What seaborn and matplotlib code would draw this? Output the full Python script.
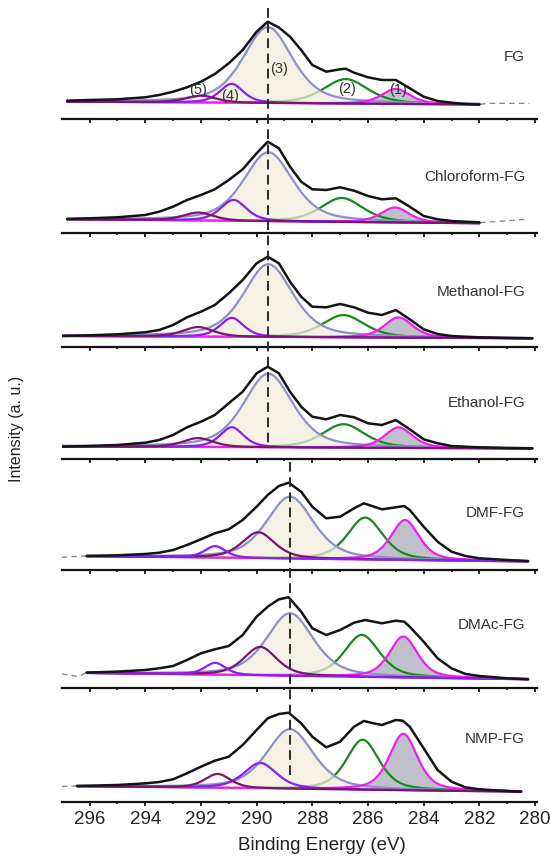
import numpy as np
import pandas as pd
import matplotlib
matplotlib.use("Agg")
import matplotlib.pyplot as plt
import seaborn as sns
from matplotlib.lines import Line2D
from matplotlib.transforms import blended_transform_factory

sns.set_theme(style="white")
plt.rcParams["font.family"] = ["Liberation Sans", "DejaVu Sans"]

# ---------------- data ----------------
panel_names = ["FG", "Chloroform-FG", "Methanol-FG", "Ethanol-FG", "DMF-FG", "DMAc-FG", "NMP-FG"]
xtick_values = [296, 294, 292, 290, 288, 286, 284, 282, 280]
ref_line_top = 289.6      # dashed reference line, top four panels
ref_line_bottom = 288.8   # dashed reference line, bottom three panels

# measured spectra (black curves), intensity in arbitrary units
fg_E = [296.8, 296, 295, 294, 293.5, 293, 292.5, 292, 291.5, 291, 290.5, 290, 289.6, 289.2, 288.8,
        288.4, 288, 287.5, 287, 286.8, 286.5, 286, 285.5, 285, 284.5, 284, 283.5, 283, 282.5, 282]
fg_I = [17.8, 18.5, 19.2, 21.2, 23.5, 26.8, 31.2, 36.8, 44.5, 55.2, 68.5, 86.8, 96.8, 91.0, 81.8,
        68.5, 53.5, 46.8, 49.2, 49.8, 45.8, 41.2, 38.5, 38.5, 30.2, 21.8, 17.5, 15.8, 14.5, 14.0]
chl_E = [296.8, 296, 295, 294, 293.5, 293, 292.5, 292, 291.5, 291, 290.5, 290, 289.6, 289.2, 288.8,
         288.4, 288, 287.5, 287, 286.5, 286, 285.5, 285, 284.5, 284, 283.5, 283, 282.5, 282]
chl_I = [14.3, 15, 16, 18.3, 21.6, 26.6, 33.3, 38.3, 44, 53.3, 64, 80, 91.6, 85, 66.6,
         51.6, 44, 43.3, 46, 42.6, 37.3, 34, 35, 26.6, 17.3, 14, 12.3, 11.6, 11]
met_E = [297.0, 296, 295, 294, 293.5, 293, 292.5, 292, 291.5, 291, 290.5, 290, 289.6, 289.2, 288.8, 288.4,
         288, 287.5, 287, 286.5, 286, 285.5, 285, 284.5, 284, 283.5, 283, 282.5, 282, 281, 280.1]
met_I = [11.3, 12, 13, 15, 17.3, 22.3, 30, 35.6, 42.3, 54, 67.3, 84, 90.6, 84, 65.6, 50.6,
         40.6, 40, 43.3, 40, 34.6, 32.3, 37.3, 28, 18, 13.3, 11.3, 10.6, 10, 9.3, 9]
eth_E = [297.0, 296, 295, 294, 293.5, 293, 292.5, 292, 291.5, 291, 290.5, 290, 289.6, 289.2, 288.8, 288.4,
         288, 287.5, 287, 286.5, 286, 285.5, 285, 284.5, 284, 283.5, 283, 282.5, 282, 281, 280.1]
eth_I = [12.3, 13, 14, 16.3, 19, 24, 31.7, 37.3, 44, 55.7, 67.3, 85.7, 92.3, 85.7, 67.3, 52.3,
         42.3, 39.7, 44, 41.7, 35.7, 34, 39, 29.7, 19.7, 15.7, 13, 12.3, 11.7, 11, 10.7]
dmf_E = [296.1, 295, 294, 293.5, 293, 292.5, 292, 291.5, 291, 290.5, 290, 289.6, 289.2, 288.85, 288.4, 288,
         287.5, 287, 286.5, 286.15, 285.5, 285, 284.7, 284.5, 284, 283.5, 283, 282.5, 282, 281, 280.25]
dmf_I = [14, 14.7, 16, 17.3, 20, 25, 30.7, 36.7, 40.7, 50, 63.3, 75, 84, 87.3, 78.3, 63.3,
         51.7, 53.3, 61.7, 66.7, 60.7, 62.7, 64, 60, 43.3, 28.3, 18.3, 14, 11.7, 10, 9]
dmac_E = [296.1, 295, 294, 293.5, 293, 292.5, 292, 291.5, 291, 290.5, 290, 289.6, 289.2, 288.85, 288.4, 288,
          287.5, 287, 286.5, 286.1, 285.5, 285, 284.7, 284.5, 284, 283.5, 283, 282.5, 282, 281, 280.25]
dmac_I = [15.7, 16.7, 18.3, 20, 22.3, 28.3, 35, 39, 42.3, 53.3, 71.6, 81.6, 89, 91, 76.6, 60,
          53.3, 58.3, 65.6, 68.3, 65, 67.6, 66.6, 61.6, 46.6, 30, 20, 14.3, 12.3, 10, 9]
nmp_E = [296.45, 296, 295, 294, 293.5, 293, 292.5, 292, 291.5, 291, 290.5, 290, 289.6, 289.2, 288.85, 288.4,
         288, 287.5, 287, 286.5, 286.15, 285.8, 285.5, 285, 284.75, 284.5, 284, 283.5, 283, 282.5, 282, 281, 280.5]
nmp_I = [15.7, 16, 16.7, 18.3, 19.7, 22.4, 28.4, 35, 41, 45, 56.7, 71.7, 83.4, 87.7, 89, 78.4,
         65, 54.4, 60, 75, 80.7, 78.4, 76.7, 81.7, 81, 75, 53.4, 31.7, 20, 14.4, 12.4, 10.7, 10]

# raw-data (grey dashed) extensions beyond the black curves
fg_tail_E, fg_tail_I = [282.0, 281.7, 280.2], [14.0, 15.2, 15.2]
chl_tail_E, chl_tail_I = [282.0, 280.3], [10.6, 14.0]
met_tail_E, met_tail_I = [], []
eth_tail_E, eth_tail_I = [], []
dmf_tail_E, dmf_tail_I = [297.0, 296.1], [12.7, 14.0]
dmac_tail_E, dmac_tail_I = [297.0, 296.4, 296.1], [14.3, 11.8, 15.7]
nmp_tail_E, nmp_tail_I = [297.0, 296.45], [15.3, 15.7]

# fitted components (1)..(5): centre (eV), height above baseline, FWHM (eV)
fg_centers, fg_heights, fg_fwhm = [285.0, 286.8, 289.6, 290.9, 292.0], [15, 24.5, 76, 19, 7], [1.2, 1.9, 2.1, 1.0, 1.3]
chl_centers, chl_heights, chl_fwhm = [285.03, 286.94, 289.58, 290.83, 292.1], [15, 24, 69, 21, 8], [1.2, 1.8, 2.1, 1.1, 1.3]
met_centers, met_heights, met_fwhm = [284.9, 286.88, 289.58, 290.89, 292.1], [20.3, 22.3, 72.8, 19, 9.6], [1.2, 1.8, 2.1, 1.0, 1.3]
eth_centers, eth_heights, eth_fwhm = [284.9, 286.88, 289.58, 290.89, 292.1], [20.5, 23.5, 73.7, 20, 9], [1.2, 1.8, 2.1, 1.0, 1.3]
dmf_centers, dmf_heights, dmf_fwhm = [284.67, 286.1, 288.8, 289.94, 291.49], [40, 42, 62, 26, 11.6], [1.2, 1.5, 2.0, 1.4, 0.9]
dmac_centers, dmac_heights, dmac_fwhm = [284.73, 286.22, 288.8, 289.87, 291.49], [41, 42, 62.7, 28.6, 12], [1.2, 1.5, 2.0, 1.4, 0.9]
nmp_centers, nmp_heights, nmp_fwhm = [284.73, 286.19, 288.8, 289.87, 291.4], [56.4, 50, 59.7, 25.5, 14], [1.2, 1.4, 2.0, 1.4, 1.1]
# linear background: value at the high-BE end and at the low-BE end of the fit range
fg_base, chl_base, met_base, eth_base = [16.8, 14.0], [14.0, 10.0], [11.3, 9.0], [12.5, 10.5]
dmf_base, dmac_base, nmp_base = [13.8, 8.5], [15.3, 9.0], [15.5, 10.0]

# component labels in the top panel
fg_label_text = ["(1)", "(2)", "(3)", "(4)", "(5)"]
fg_label_E = [284.92, 286.76, 289.19, 290.95, 292.09]
fg_label_I = [28.5, 29.2, 49.2, 22.5, 28.5]

# ---------------- styling ----------------
C_LAV, C_GREEN, C_MAG = "#8c91c7", "#15891a", "#f01ff0"
C_VIO, C_DPUR = "#8a1ff2", "#7d1470"
C_BEIGE, C_GREYF = "#f2eddb", "#c0c0cb"
ETA = 0.5  # Lorentzian fraction of the pseudo-Voigt component shape

panels = [
    (fg_E, fg_I, fg_tail_E, fg_tail_I, fg_centers, fg_heights, fg_fwhm, fg_base, False),
    (chl_E, chl_I, chl_tail_E, chl_tail_I, chl_centers, chl_heights, chl_fwhm, chl_base, False),
    (met_E, met_I, met_tail_E, met_tail_I, met_centers, met_heights, met_fwhm, met_base, False),
    (eth_E, eth_I, eth_tail_E, eth_tail_I, eth_centers, eth_heights, eth_fwhm, eth_base, False),
    (dmf_E, dmf_I, dmf_tail_E, dmf_tail_I, dmf_centers, dmf_heights, dmf_fwhm, dmf_base, True),
    (dmac_E, dmac_I, dmac_tail_E, dmac_tail_I, dmac_centers, dmac_heights, dmac_fwhm, dmac_base, True),
    (nmp_E, nmp_I, nmp_tail_E, nmp_tail_I, nmp_centers, nmp_heights, nmp_fwhm, nmp_base, False),
]
panel_px_heights = [113.5, 114.8, 114.0, 111.7, 111.0, 118.3, 113.4]
label_y = [61.5, 56.3, 55.6, 56.0, 57.0, 63.3, 62.8]


def pvoigt(x, c, h, w):
    z = 4.0 * (x - c) ** 2 / w ** 2
    return h * ((1 - ETA) * np.exp(-np.log(2) * z) + ETA / (1 + z))


W, H = 550, 858
fig = plt.figure(figsize=(W / 100, H / 100), dpi=100)
gs = fig.add_gridspec(len(panels), 1, height_ratios=panel_px_heights, hspace=0,
                      left=61.7 / W, right=537 / W, top=1 - 5 / H, bottom=1 - 801.7 / H)
axes = [fig.add_subplot(gs[i]) for i in range(len(panels))]

for i, (ax, p) in enumerate(zip(axes, panels)):
    E, I, tE, tI, cen, hei, fw, base, swap = p
    e0, e1 = E[0], E[-1]
    grid = np.linspace(e0, e1, 500)
    bl = base[0] + (base[1] - base[0]) * (grid - e0) / (e1 - e0)
    comps = [bl + pvoigt(grid, c, h, w) for c, h, w in zip(cen, hei, fw)]
    c4, c5 = (C_DPUR, C_VIO) if swap else (C_VIO, C_DPUR)

    # grey fill under component (1), beige fill under component (3)
    ax.fill_between(grid, bl, comps[0], color=C_GREYF, lw=0, zorder=1.5)
    sns.lineplot(x=grid, y=comps[1], ax=ax, color=C_GREEN, lw=1.6, estimator=None, sort=False, zorder=2)
    ax.fill_between(grid, bl, comps[2], color=C_BEIGE, alpha=0.72, lw=0, zorder=2.5)
    sns.lineplot(x=grid, y=comps[2], ax=ax, color=C_LAV, lw=1.6, estimator=None, sort=False, zorder=3)
    sns.lineplot(x=grid, y=comps[0], ax=ax, color=C_MAG, lw=1.6, estimator=None, sort=False, zorder=3.2)
    sns.lineplot(x=grid, y=comps[3], ax=ax, color=c4, lw=1.6, estimator=None, sort=False, zorder=3.3)
    sns.lineplot(x=grid, y=comps[4], ax=ax, color=c5, lw=1.6, estimator=None, sort=False, zorder=3.4)

    # raw data (grey dashed) and measured envelope (black)
    if len(tE):
        if tE[0] > E[0]:
            rawE, rawI = list(tE) + list(E), list(tI) + list(I)
        else:
            rawE, rawI = list(E) + list(tE), list(I) + list(tI)
    else:
        rawE, rawI = list(E), list(I)
    ax.plot(rawE, rawI, color="#8a8a8a", lw=1.0, ls=(0, (4, 3)), zorder=4)
    sns.lineplot(x=E, y=I, ax=ax, color="#141414", lw=1.8, estimator=None, sort=False, zorder=5)

    ax.set_xlim(297.0, 279.93)
    ax.set_ylim(0, panel_px_heights[i])
    ax.set_xticks(xtick_values)
    ax.set_xticks(np.arange(281, 297, 2), minor=True)
    ax.set_yticks([])
    ax.set_xlabel("")
    ax.set_ylabel("")
    for s in ["left", "right", "top"]:
        ax.spines[s].set_visible(False)
    ax.spines["bottom"].set_color("#111111")
    ax.spines["bottom"].set_linewidth(1.6)
    ax.tick_params(axis="x", which="major", direction="out", length=2.6, width=1.3, color="#111111",
                   bottom=True, labelbottom=(i == len(panels) - 1), labelsize=13.5, pad=4, labelcolor="#222222")
    ax.tick_params(axis="x", which="minor", direction="out", length=1.6, width=1.1, color="#111111", bottom=True)
    ax.patch.set_alpha(0)
    tr = blended_transform_factory(ax.transAxes, ax.transData)
    ax.text(0.975, label_y[i], panel_names[i], transform=tr, ha="right", va="center",
            fontsize=11, color="#333333", zorder=6)

# component labels in the FG panel
for t, e, v in zip(fg_label_text, fg_label_E, fg_label_I):
    axes[0].text(e, v, t, ha="center", va="center", fontsize=10.5, color="#333333", zorder=6)

# vertical dashed reference lines spanning several panels
trf = blended_transform_factory(axes[0].transData, fig.transFigure)
fig.add_artist(Line2D([ref_line_top, ref_line_top], [1 - 8 / H, 1 - 443 / H], transform=trf,
                      color="#2a2a2a", lw=1.4, ls=(0, (5, 2.8)), zorder=10))
fig.add_artist(Line2D([ref_line_bottom, ref_line_bottom], [1 - 462 / H, 1 - 780 / H], transform=trf,
                      color="#2a2a2a", lw=1.4, ls=(0, (5, 2.8)), zorder=10))

fig.text(322 / W, 1 - 846 / H, "Binding Energy (eV)", ha="center", va="center", fontsize=13.5, color="#222222")
fig.text(17 / W, 1 - 429 / H, "Intensity (a. u.)", ha="center", va="center", rotation=90,
         fontsize=11.5, color="#222222")

fig.savefig("out.png", dpi=100)
